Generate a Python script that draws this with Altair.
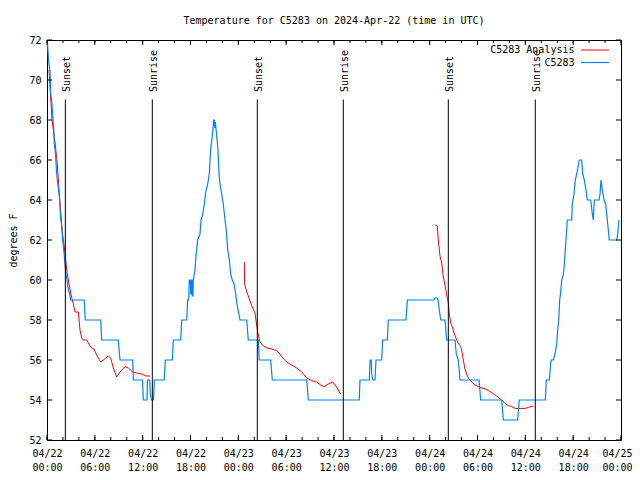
import altair as alt
import pandas as pd

MONO = "DejaVu Sans Mono"
BASE_MS = 1713744000000  # 2024-04-22 00:00 UTC
HOUR_MS = 3600000

# ---- observations (C5283), hours since 04/22 00:00 UTC, degrees F ----
obs_hours = [
    0.04, 0.19, 0.38, 0.46, 0.59, 0.72, 0.84, 0.92, 1.07, 1.17,
    1.29, 1.42, 1.59, 1.69, 1.84, 1.97, 2.13, 2.26, 2.38, 2.51,
    2.63, 2.85, 2.97, 4.68, 4.80, 6.74, 6.86, 8.94, 9.16, 10.75,
    10.83, 11.98, 12.08, 12.54, 12.61, 12.88, 12.96, 13.11, 13.36, 13.46,
    14.71, 14.84, 15.72, 15.84, 16.77, 16.90, 17.52, 17.65, 17.77, 17.85,
    17.98, 18.03, 18.10, 18.15, 18.19, 18.23, 18.31, 18.35, 18.56, 18.69,
    18.90, 19.19, 19.32, 19.53, 19.73, 19.91, 20.16, 20.36, 20.45, 20.57,
    20.74, 20.91, 20.99, 21.04, 21.11, 21.29, 21.45, 21.58, 21.70, 21.91,
    22.11, 22.33, 22.49, 22.67, 22.87, 23.04, 23.24, 23.46, 23.67, 23.83,
    24.02, 24.21, 25.05, 25.25, 26.50, 26.63, 28.06, 28.26, 32.58, 32.78,
    39.17, 39.26, 40.43, 40.52, 40.68, 40.73, 40.86, 41.14, 41.27, 41.98,
    42.11, 42.69, 42.81, 45.03, 45.20, 48.54, 48.63, 48.92, 49.05, 49.21,
    49.39, 49.92, 50.14, 51.18, 51.34, 51.59, 51.81, 54.19, 54.40, 57.04,
    57.24, 59.04, 59.24, 62.51, 62.63, 63.01, 63.22, 63.51, 63.72, 63.94,
    64.06, 64.19, 64.31, 64.44, 64.56, 64.76, 64.89, 65.01, 65.19, 65.26,
    65.82, 65.89, 66.10, 66.27, 66.44, 66.65, 66.77, 67.07, 67.20, 67.40,
    67.61, 67.77, 68.20, 68.40, 68.53, 68.65, 69.24, 69.37, 69.49, 69.66,
    69.87, 70.08, 70.28, 70.41, 70.53, 71.46, 71.59, 71.75,
]
obs_temp = [
    72, 71, 70.4, 69.3, 69, 68.2, 67.6, 66.8, 66.3, 65.6,
    65, 64.6, 64, 63.2, 62.7, 62, 61.4, 60.8, 60.3, 60,
    59.6, 59.3, 59, 59, 58, 58, 57, 57, 56, 56,
    55, 55, 54, 54, 55, 55, 54.3, 54, 54, 55,
    55, 56, 56, 57, 57, 58, 58, 59, 59, 60,
    60, 59.3, 59.3, 60, 60, 59.2, 59.2, 60, 60.5, 61.2,
    62, 62.3, 63, 63.3, 63.8, 64.4, 64.8, 65.3, 66, 66.7,
    67.2, 68, 68, 67.6, 67.9, 67.2, 66.5, 65.3, 64.8, 64.3,
    63.8, 63, 62.5, 61.5, 61, 60.3, 60, 59.8, 59.3, 58.8,
    58.4, 58, 58, 57, 57, 56, 56, 55, 55, 54,
    54, 55, 55, 56, 56, 55.3, 55, 55, 56, 56,
    57, 57, 58, 58, 59, 59, 59.1, 59.1, 59, 58.5,
    58, 58, 57, 57, 56.3, 56, 55, 55, 54, 54,
    53, 53, 54, 54, 55, 55, 56, 56, 56.3, 56.8,
    57.5, 58, 59, 59.4, 60, 60.25, 60.75, 61.5, 62.5, 63,
    63, 63.8, 64.3, 65, 65.3, 65.75, 66, 66, 65.3, 65,
    64.5, 64, 64, 63.3, 63, 64, 64, 64.3, 65, 64.5,
    64, 63.8, 63, 62.5, 62, 62, 62.3, 63,
]

# ---- analysis (C5283 Analysis), three runs ----
ana1_hours = [0.25, 0.63, 1.00, 1.29, 1.51, 1.72, 1.92, 2.22, 2.47, 2.76,
              3.05, 3.30, 3.51, 3.93, 4.14, 4.35, 4.55, 4.98, 5.31, 5.61,
              5.90, 6.23, 6.74, 7.06, 7.69, 7.99, 8.32, 8.74, 9.16, 9.78,
              10.20, 10.75, 11.25, 11.88, 12.42, 12.92]
ana1_temp = [70.5, 68, 66.9, 65.8, 64.5, 63.4, 62.4, 61.5, 60.5, 59.8,
             59.2, 58.8, 58.4, 58.4, 57.5, 57.1, 57, 57, 56.75, 56.6,
             56.55, 56.25, 55.9, 56, 56.2, 56.1, 55.6, 55.15, 55.4, 55.67,
             55.6, 55.4, 55.35, 55.3, 55.2, 55.2]
ana2_hours = [24.75, 24.79, 25.05, 25.25, 25.55, 25.80, 26.09, 26.30, 26.50, 26.72,
              27.13, 27.63, 28.19, 28.81, 29.23, 29.57, 30.07, 30.69, 31.32, 31.95,
              32.58, 33.20, 33.83, 34.33, 34.75, 35.28, 35.84, 36.25, 36.54, 36.84]
ana2_temp = [60.9, 59.8, 59.4, 59.2, 58.85, 58.6, 58.35, 57.75, 57.25, 56.9,
             56.7, 56.6, 56.55, 56.47, 56.3, 56.1, 55.9, 55.75, 55.6, 55.4,
             55.1, 54.97, 54.9, 54.75, 54.67, 54.8, 54.9, 54.7, 54.5, 54.3]
ana3_hours = [48.71, 48.96, 49.08, 49.30, 49.51, 49.71, 49.92, 50.14, 50.34, 50.46,
              50.64, 50.89, 51.05, 51.30, 51.59, 51.89, 52.06, 52.22, 52.43, 52.65,
              52.85, 53.06, 53.40, 53.69, 54.10, 54.53, 54.94, 55.36, 55.78, 56.20,
              56.61, 57.04, 57.45, 57.86, 58.29, 58.70, 59.33, 59.96, 60.37, 61.00]
ana3_temp = [62.75, 62.7, 62, 61.2, 60.85, 60.15, 59.75, 59.25, 58.85, 58.35,
             57.85, 57.6, 57.35, 57.1, 56.85, 56.67, 56.4, 56, 55.55, 55.3,
             55.1, 55, 54.87, 54.75, 54.67, 54.6, 54.57, 54.47, 54.37, 54.25,
             54.13, 54, 53.83, 53.72, 53.67, 53.58, 53.58, 53.58, 53.63, 53.7]

# ---- sun events ----
sun_hours = [2.30, 13.21, 26.38, 37.17, 50.34, 61.25]
sun_labels = ["Sunset", "Sunrise", "Sunset", "Sunrise", "Sunset", "Sunrise"]

# ---- ticks / labels ----
x_major_hours = list(range(0, 73, 6))
x_minor_hours = list(range(0, 73, 2))
y_ticks = list(range(52, 73, 2))
series_names = ["C5283 Analysis", "C5283"]
series_colors = ["#ff0000", "#0080ff"]
title_text = "Temperature for C5283 on 2024-Apr-22 (time in UTC)"
y_title = "degrees F"


def ms(hours):
    return [BASE_MS + int(round(h * HOUR_MS)) for h in hours]


obs_df = pd.DataFrame({"t": ms(obs_hours), "v": obs_temp})
ana_df = pd.concat([
    pd.DataFrame({"t": ms(h), "v": v, "seg": i})
    for i, (h, v) in enumerate([(ana1_hours, ana1_temp),
                                (ana2_hours, ana2_temp),
                                (ana3_hours, ana3_temp)])
])
sun_df = pd.DataFrame({"t": ms(sun_hours), "label": sun_labels})
xmaj_df = pd.DataFrame({"t": ms(x_major_hours)})
xmin_df = pd.DataFrame({"t": ms(x_minor_hours)})
ytick_df = pd.DataFrame({"v": y_ticks})

W, H = 574, 400
last_tick = ms(x_major_hours)[-1]

x_axis = alt.Axis(
    values=ms(x_major_hours),
    labelExpr="[utcFormat(datum.value, '%m/%d'), utcFormat(datum.value, '%H:%M')]",
    ticks=False, domain=False, grid=False, labelFlush=False, labelOverlap=False,
    labelPadding=8, labelLineHeight=14, labelFont=MONO, labelFontSize=10,
    labelColor="black", labelBaseline="top", title=None,
    labelOffset={"condition": {"test": f"time(datum.value) >= {last_tick}", "value": -4},
                 "value": 0},
)
y_axis = alt.Axis(
    values=y_ticks, ticks=False, domain=False, grid=False, labelPadding=6,
    labelFont=MONO, labelFontSize=10, labelColor="black",
    title=y_title, titleFont=MONO, titleFontSize=10, titleFontWeight="normal",
    titleColor="black", titleX=-34, titleY=H / 2, titleAngle=270,
    titleAlign="center", titleBaseline="middle",
)
xs = alt.Scale(type="utc", domain=[BASE_MS, BASE_MS + 72 * HOUR_MS])
ys = alt.Scale(domain=[52, 72], nice=False, zero=False)
X = alt.X("t:T", scale=xs, axis=x_axis)
Y = alt.Y("v:Q", scale=ys, axis=y_axis)

layers = []
# analysis (drawn first, under observations)
layers.append(alt.Chart(ana_df).mark_line(color=series_colors[0], strokeWidth=1, clip=True)
              .encode(x=X, y=Y, detail="seg:N"))
layers.append(alt.Chart(obs_df).mark_line(color=series_colors[1], strokeWidth=1.2, clip=True)
              .encode(x=X, y=Y))
# sunrise / sunset lines and labels
layers.append(alt.Chart(sun_df).mark_rule(color="black", strokeWidth=1)
              .encode(x=X, y=alt.value(59.5), y2=alt.value(H)))
layers.append(alt.Chart(sun_df).mark_text(angle=270, align="left", baseline="middle", dy=1.5,
                                          font=MONO, fontSize=10, color="black")
              .encode(x=X, y=alt.value(52), text="label:N"))
# inward ticks (gnuplot style, mirrored)
for df, ln in ((xmin_df, 3), (xmaj_df, 5)):
    layers.append(alt.Chart(df).mark_rule(color="black", strokeWidth=1)
                  .encode(x=X, y=alt.value(H), y2=alt.value(H - ln)))
    layers.append(alt.Chart(df).mark_rule(color="black", strokeWidth=1)
                  .encode(x=X, y=alt.value(0), y2=alt.value(ln)))
layers.append(alt.Chart(ytick_df).mark_rule(color="black", strokeWidth=1)
              .encode(y=Y, x=alt.value(0), x2=alt.value(5)))
layers.append(alt.Chart(ytick_df).mark_rule(color="black", strokeWidth=1)
              .encode(y=Y, x=alt.value(W), x2=alt.value(W - 5)))
# key (top right, labels then line samples)
dummy = pd.DataFrame({"k": [0]})
for i, (name, col) in enumerate(zip(series_names, series_colors)):
    yy = 10 + 12.5 * i
    layers.append(alt.Chart(dummy).mark_text(text=name, align="right", baseline="middle",
                                             font=MONO, fontSize=10, color="black")
                  .encode(x=alt.value(527.5), y=alt.value(yy)))
    layers.append(alt.Chart(dummy).mark_rule(color=col, strokeWidth=1.2 if i else 1)
                  .encode(x=alt.value(534), x2=alt.value(562), y=alt.value(yy)))

chart = alt.layer(*layers).properties(
    width=W, height=H,
    autosize=alt.AutoSizeParams(type="none"),
    padding={"left": 39, "top": 32, "right": 11, "bottom": 32},
    title=alt.TitleParams(title_text, font=MONO, fontSize=10, fontWeight="normal",
                          color="black", anchor="middle", frame="group", offset=9),
).configure_view(stroke="black", strokeWidth=1)

chart.save("out.html", embed_options={"renderer": "svg", "actions": False})
